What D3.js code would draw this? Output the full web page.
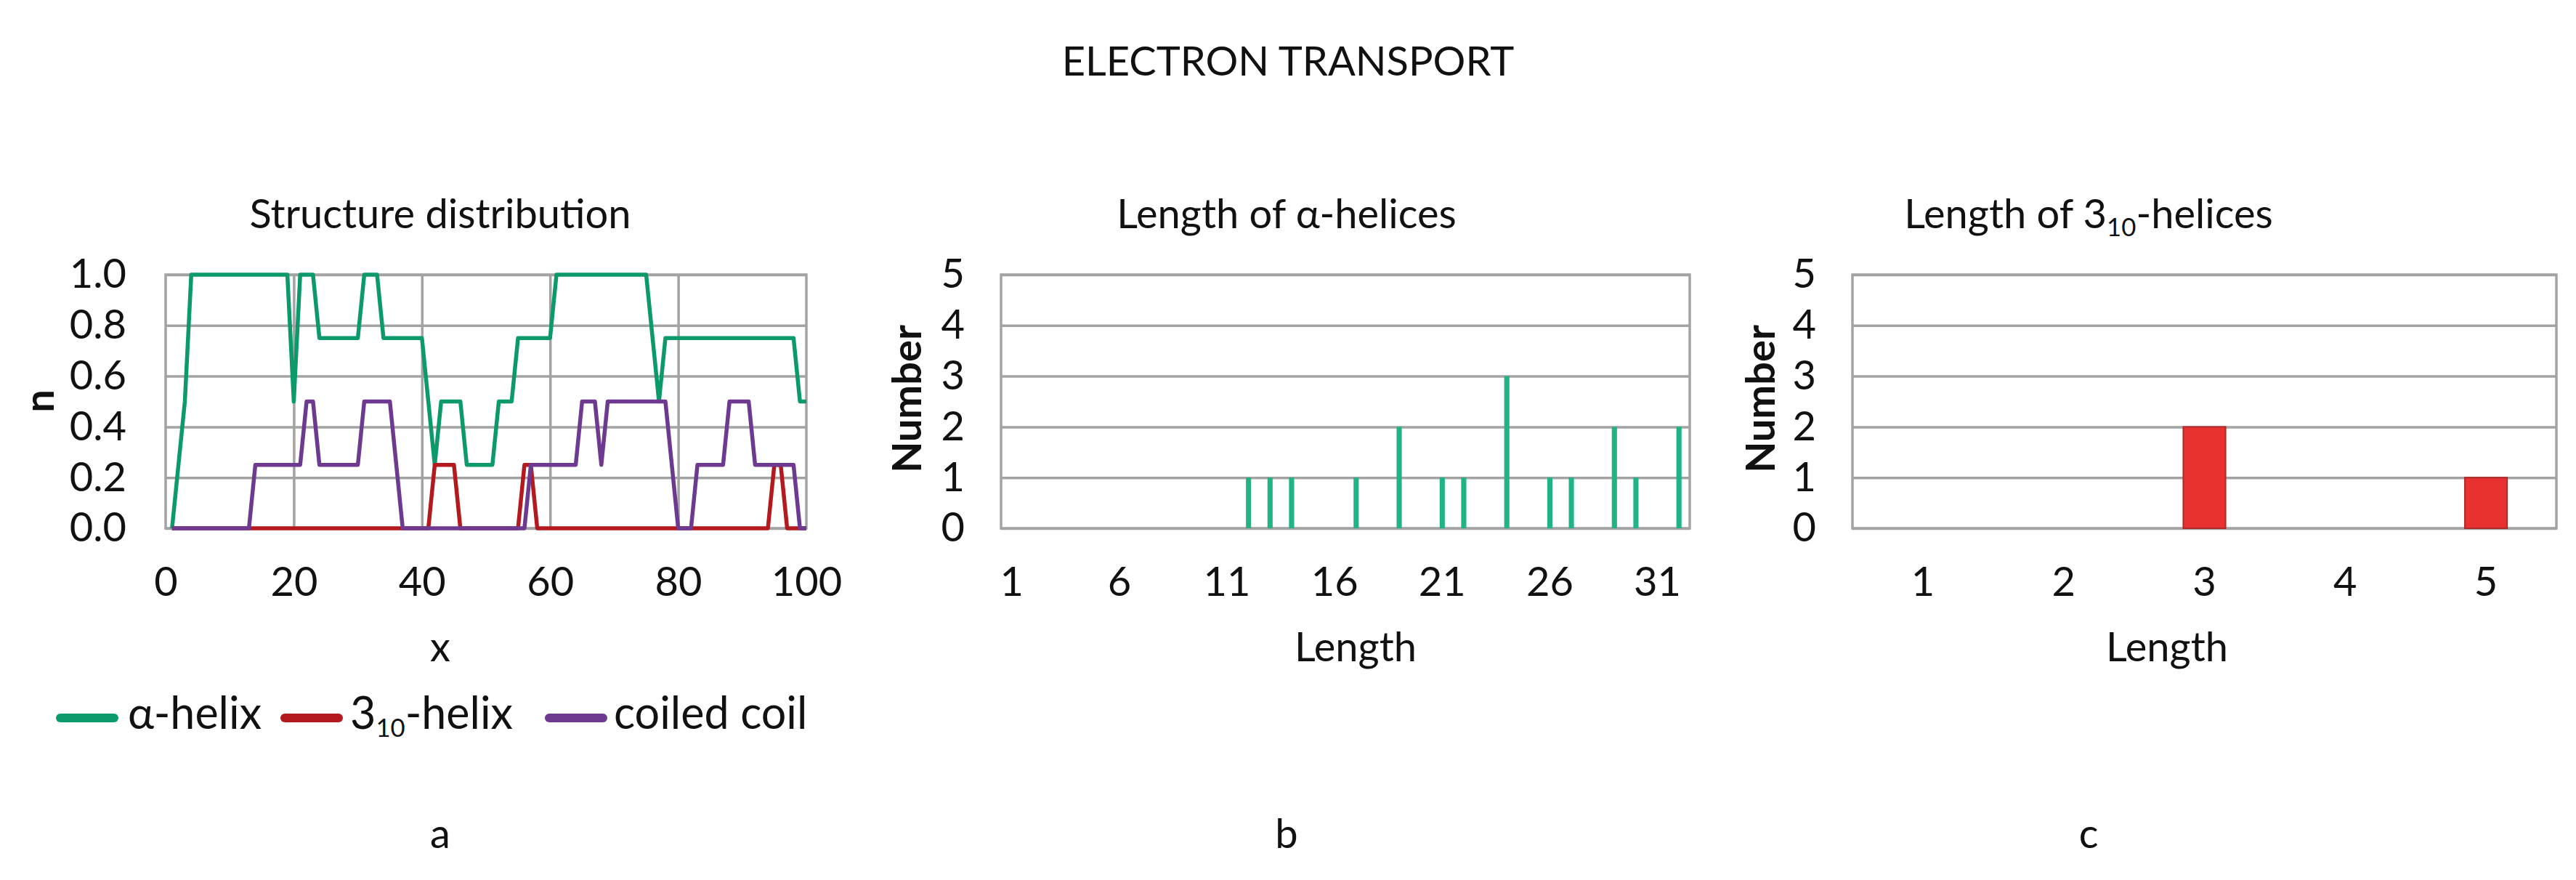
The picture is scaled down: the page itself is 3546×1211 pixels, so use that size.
<!DOCTYPE html>
<html>
<head>
<meta charset="utf-8">
<script src="https://cdn.jsdelivr.net/npm/d3@7/dist/d3.min.js"></script>
<style>
body { margin: 0; background: #fff; }
text { font-family: Lato, "Open Sans", sans-serif; fill: #111; }
.grid line { stroke: #a3a3a3; stroke-width: 3.5; }
.grid path { display: none; }
.ticks path { display: none; }
</style>
</head>
<body>
<svg id="fig" width="3546" height="1211"></svg>
<script>
// structure distribution along the sequence: [x, n]
var alphaHelix = [[1,0],[2,0.25],[3,0.5],[4,1],[19,1],[20,0.5],[21,1],[23,1],[24,0.75],[30,0.75],
	[31,1],[33,1],[34,0.75],[40,0.75],[42,0.25],[43,0.5],[46,0.5],[47,0.25],[51,0.25],[52,0.5],
	[54,0.5],[55,0.75],[60,0.75],[61,1],[75,1],[77,0.5],[78,0.75],[98,0.75],[99,0.5],[100,0.5]];
var helix310 = [[1,0],[41,0],[42,0.25],[45,0.25],[46,0],[55,0],[56,0.25],[57,0.25],[58,0],
	[94,0],[95,0.25],[96,0.25],[97,0],[100,0]];
var coiledCoil = [[1,0],[13,0],[14,0.25],[21,0.25],[22,0.5],[23,0.5],[24,0.25],[30,0.25],[31,0.5],
	[35,0.5],[37,0],[56,0],[57,0.25],[64,0.25],[65,0.5],[67,0.5],[68,0.25],[69,0.5],[78,0.5],
	[80,0],[82,0],[83,0.25],[87,0.25],[88,0.5],[91,0.5],[92,0.25],[98,0.25],[99,0],[100,0]];

var xTicksA = [0, 20, 40, 60, 80, 100];
var yTicksA = [0, 0.2, 0.4, 0.6, 0.8, 1.0];

// length histograms
var alphaLengths = [1,2,3,4,5,6,7,8,9,10,11,12,13,14,15,16,17,18,19,20,21,22,23,24,25,26,27,28,29,30,31,32];
var alphaCounts  = [0,0,0,0,0,0,0,0,0,0,0,1,1,1,0,0,1,0,2,0,1,1,0,3,0,1,1,0,2,1,0,2];
var alphaTickLabels = [1, 6, 11, 16, 21, 26, 31];

var h310Lengths = [1, 2, 3, 4, 5];
var h310Counts  = [0, 0, 2, 0, 1];

var countTicks = [0, 1, 2, 3, 4, 5];

var FS = 56;
var plotTop = 378, plotBottom = 727;

var svg = d3.select("#fig");

function addText(x, y, txt, opts) {
	opts = opts || {};
	var t = svg.append("text")
	.attr("x", x)
	.attr("y", y)
	.style("font-size", (opts.size || FS) + "px")
	.style("text-anchor", opts.anchor || "middle")
	.style("font-weight", opts.bold ? "bold" : "normal");
	if (opts.rotate) {
		t.attr("transform", "rotate(-90," + x + "," + y + ")")
		.style("dominant-baseline", "central");
	}
	if (opts.sub) {
		t.append("tspan").text(txt[0]);
		t.append("tspan").text(opts.sub)
		.attr("dy", FS * 0.2)
		.style("font-size", (FS * 0.62) + "px");
		t.append("tspan").text(txt[1])
		.attr("dy", -FS * 0.2);
	} else {
		t.text(txt);
	}
	return t;
}

function frame(g, x0, x1, y, ticks, pad, fmt) {
	// horizontal gridlines + left labels
	g.append("g")
	.attr("class", "grid")
	.attr("transform", "translate(" + x0 + ",0)")
	.call(d3.axisLeft(y).tickValues(ticks).tickSize(-(x1 - x0)).tickFormat(""));

	var ax = g.append("g")
	.attr("class", "ticks")
	.attr("transform", "translate(" + x0 + ",0)")
	.call(d3.axisLeft(y).tickValues(ticks).tickSize(0).tickPadding(pad).tickFormat(fmt));
	ax.selectAll("text").style("font-size", FS + "px").style("fill", "#111");

	g.append("rect")
	.attr("x", x0)
	.attr("y", plotTop)
	.attr("width", x1 - x0)
	.attr("height", plotBottom - plotTop)
	.style("fill", "none")
	.style("stroke", "#a3a3a3")
	.style("stroke-width", 3.5);
}

// ---------- panel a ----------
var ga = svg.append("g");
var xA = d3.scaleLinear().domain([0, 100]).range([228, 1110]);
var yA = d3.scaleLinear().domain([0, 1]).range([plotBottom, plotTop]);

ga.append("g")
.attr("class", "grid")
.attr("transform", "translate(0," + plotBottom + ")")
.call(d3.axisBottom(xA).tickValues([20, 40, 60, 80]).tickSize(-(plotBottom - plotTop)).tickFormat(""));

frame(ga, 228, 1110, yA, yTicksA, 54, d3.format(".1f"));

var xaxA = ga.append("g")
.attr("class", "ticks")
.attr("transform", "translate(0," + plotBottom + ")")
.call(d3.axisBottom(xA).tickValues(xTicksA).tickSize(0).tickPadding(53));
xaxA.selectAll("text").style("font-size", FS + "px").style("fill", "#111");

var line = d3.line()
.x(function (d) { return xA(d[0]); })
.y(function (d) { return yA(d[1]); });

var series = [
	{ data: alphaHelix, color: "#0c9a6c" },
	{ data: helix310, color: "#b3191e" },
	{ data: coiledCoil, color: "#6e3990" }
];

series.forEach(function (s) {
	ga.append("path")
	.attr("d", line(s.data))
	.style("fill", "none")
	.style("stroke", s.color)
	.style("stroke-width", 5.5)
	.style("stroke-linejoin", "round");
});

addText(606, 314, "Structure distribution");
addText(52, 552, "n", { bold: true, rotate: true });
addText(606, 910, "x");

// legend
var legend = [
	{ x: 77, tx: 176, color: "#0c9a6c", label: "α-helix" },
	{ x: 386, tx: 482, color: "#b3191e", label: ["3", "-helix"], sub: "10" },
	{ x: 750, tx: 845, color: "#6e3990", label: "coiled coil" }
];
legend.forEach(function (l) {
	svg.append("line")
	.attr("x1", l.x + 6)
	.attr("x2", l.x + 80)
	.attr("y1", 988)
	.attr("y2", 988)
	.style("stroke", l.color)
	.style("stroke-width", 12)
	.style("stroke-linecap", "round");
	addText(l.tx, 1003, l.label, { anchor: "start", sub: l.sub, size: 61 });
});

addText(606, 1167, "a");

// ---------- panel b ----------
var gb = svg.append("g");
var xB = d3.scaleBand().domain(alphaLengths).range([1378, 2326]).paddingInner(0.76).paddingOuter(0.38);
var yB = d3.scaleLinear().domain([0, 5]).range([plotBottom, plotTop]);

frame(gb, 1378, 2326, yB, countTicks, 50, d3.format("d"));

gb.selectAll(".bar")
.data(alphaLengths)
.enter()
.append("rect")
.attr("x", function (d) { return xB(d); })
.attr("width", xB.bandwidth())
.attr("y", function (d, i) { return yB(alphaCounts[i]); })
.attr("height", function (d, i) { return yB(0) - yB(alphaCounts[i]); })
.style("fill", "#1fb386");

var xaxB = gb.append("g")
.attr("class", "ticks")
.attr("transform", "translate(0," + plotBottom + ")")
.call(d3.axisBottom(xB).tickValues(alphaTickLabels).tickSize(0).tickPadding(53));
xaxB.selectAll("text").style("font-size", FS + "px").style("fill", "#111");

addText(1771, 314, "Length of α-helices");
addText(1246, 549, "Number", { bold: true, rotate: true });
addText(1866, 910, "Length");
addText(1771, 1167, "b");

// ---------- panel c ----------
var gc = svg.append("g");
var xC = d3.scaleBand().domain(h310Lengths).range([2550, 3519]).paddingInner(0.7).paddingOuter(0.35);
var yC = d3.scaleLinear().domain([0, 5]).range([plotBottom, plotTop]);

frame(gc, 2550, 3519, yC, countTicks, 50, d3.format("d"));

gc.selectAll(".bar")
.data(h310Lengths)
.enter()
.append("rect")
.attr("x", function (d) { return xC(d); })
.attr("width", xC.bandwidth())
.attr("y", function (d, i) { return yC(h310Counts[i]); })
.attr("height", function (d, i) { return yC(0) - yC(h310Counts[i]); })
.style("fill", "#e83131")
.style("stroke", "#b02a2a")
.style("stroke-width", 2);

var xaxC = gc.append("g")
.attr("class", "ticks")
.attr("transform", "translate(0," + plotBottom + ")")
.call(d3.axisBottom(xC).tickSize(0).tickPadding(53));
xaxC.selectAll("text").style("font-size", FS + "px").style("fill", "#111");

addText(2875, 314, ["Length of 3", "-helices"], { sub: "10" });
addText(2421, 549, "Number", { bold: true, rotate: true });
addText(2983, 910, "Length");
addText(2875, 1167, "c");

// ---------- main title ----------
addText(1773, 104, "ELECTRON TRANSPORT");
</script>
</body>
</html>
